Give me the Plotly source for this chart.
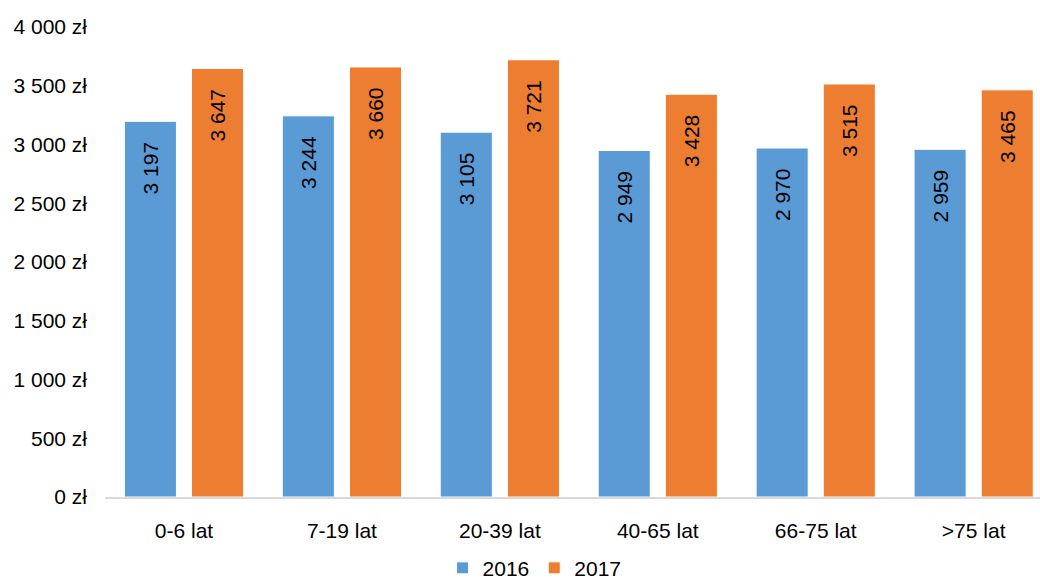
import plotly.graph_objects as go

categories = ["0-6 lat", "7-19 lat", "20-39 lat", "40-65 lat", "66-75 lat", ">75 lat"]
values_2016 = [3197, 3244, 3105, 2949, 2970, 2959]
values_2017 = [3647, 3660, 3721, 3428, 3515, 3465]
y_ticks = [0, 500, 1000, 1500, 2000, 2500, 3000, 3500, 4000]
y_tick_labels = ["0 zł", "500 zł", "1 000 zł", "1 500 zł", "2 000 zł", "2 500 zł",
                 "3 000 zł", "3 500 zł", "4 000 zł"]

FONT = "Liberation Sans, Arial, sans-serif"
PAD = "\u00a0\u00a0\u00a0"

fig = go.Figure()
for name, vals, color in [("2016", values_2016, "#5B9BD5"), ("2017", values_2017, "#ED7D31")]:
    fig.add_trace(go.Bar(
        name=name, x=categories, y=vals,
        marker=dict(color=color, line=dict(color="white", width=1)),
        texttemplate="%{y:,d}" + PAD,
        textposition="inside", insidetextanchor="end", textangle=-90,
        textfont=dict(family=FONT, size=21, color="#000000"),
        cliponaxis=False,
    ))

fig.update_layout(
    width=1040, height=581,
    margin=dict(l=105, r=0, t=27, b=84),
    paper_bgcolor="white", plot_bgcolor="white",
    separators=", ",
    barmode="group", bargap=0.15, bargroupgap=0.224,
    font=dict(family=FONT, size=21, color="#000000"),
    showlegend=True,
    legend=dict(orientation="h", xref="container", x=0.514, xanchor="center",
                yref="container", y=0.022, yanchor="middle",
                font=dict(size=21), traceorder="normal"),
    xaxis=dict(range=[-0.5, 5.42], showgrid=False, showline=True, linecolor="#D9D9D9",
               linewidth=1.5, ticks="", ticklabelstandoff=14, tickfont=dict(size=21),
               automargin=False),
    yaxis=dict(range=[0, 4000], tickvals=y_ticks, ticktext=y_tick_labels,
               showgrid=False, zeroline=False, showline=False, ticks="",
               ticklabelstandoff=17, tickfont=dict(size=21), automargin=False),
)

fig.write_html("out.html", config={"displayModeBar": False},
               post_script="document.body.style.margin='0';")
